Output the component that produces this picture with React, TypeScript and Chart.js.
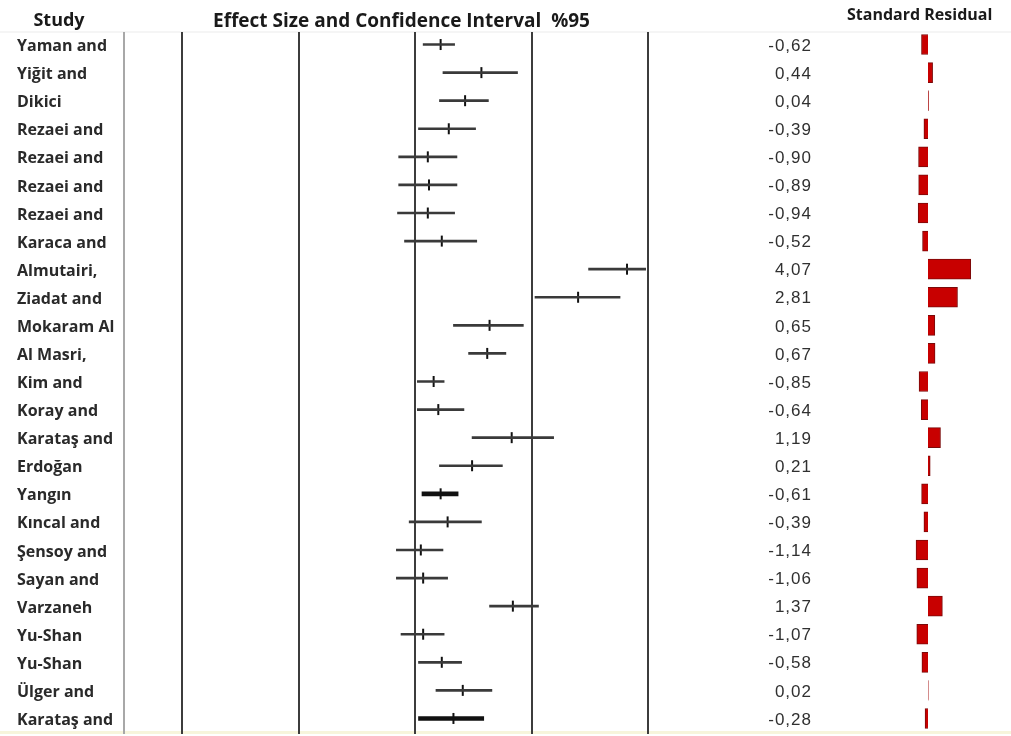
import { useEffect, useRef } from "react";
import Chart from "chart.js/auto";

// ---------- data ----------
const studies = [
  "Yaman and", "Yiğit and", "Dikici", "Rezaei and", "Rezaei and", "Rezaei and", "Rezaei and",
  "Karaca and", "Almutairi,", "Ziadat and", "Mokaram Al", "Al Masri,", "Kim and", "Koray and",
  "Karataş and", "Erdoğan", "Yangın", "Kıncal and", "Şensoy and", "Sayan and", "Varzaneh",
  "Yu-Shan", "Yu-Shan", "Ülger and", "Karataş and",
];
const effectSize = [0.22, 0.57, 0.43, 0.29, 0.11, 0.12, 0.11, 0.23, 1.82, 1.40, 0.64, 0.62, 0.16, 0.20, 0.83, 0.49, 0.22, 0.28, 0.05, 0.07, 0.84, 0.07, 0.23, 0.41, 0.33];
const ciLower = [0.07, 0.24, 0.21, 0.03, -0.14, -0.14, -0.15, -0.09, 1.49, 1.03, 0.33, 0.46, 0.02, 0.02, 0.49, 0.21, 0.06, -0.05, -0.16, -0.16, 0.64, -0.12, 0.03, 0.18, 0.03];
const ciUpper = [0.34, 0.88, 0.63, 0.52, 0.36, 0.36, 0.34, 0.53, 1.98, 1.76, 0.93, 0.78, 0.25, 0.42, 1.19, 0.75, 0.37, 0.57, 0.24, 0.28, 1.06, 0.25, 0.40, 0.66, 0.59];
const stdResidual = [-0.62, 0.44, 0.04, -0.39, -0.90, -0.89, -0.94, -0.52, 4.07, 2.81, 0.65, 0.67, -0.85, -0.64, 1.19, 0.21, -0.61, -0.39, -1.14, -1.06, 1.37, -1.07, -0.58, 0.02, -0.28];
const referenceLines = [-2, -1, 0, 1, 2];
const frameLine = -2.5;
const headerStudy = "Study";
const headerEffect = "Effect Size and Confidence Interval  %95";
const headerResidual = "Standard Residual";

// ---------- style ----------
const W = 1011;
const H = 736;
const thickRows = [16, 24];
const effPxPerUnit = 116.5;
const effZeroPx = 415;
const resPxPerUnit = 10.5;
const resZeroPx = 928;

const fmt = (v: number) => v.toFixed(2).replace(".", ",");

const decor = {
  id: "forestDecor",
  beforeDraw(chart: any) {
    const { ctx } = chart;
    ctx.save();
    ctx.fillStyle = "#ffffff";
    ctx.fillRect(0, 0, W, H);
    ctx.fillStyle = "#ececec";
    ctx.fillRect(0, 31.5, W, 1);
    ctx.fillStyle = "#f7f5dc";
    ctx.fillRect(0, 731, W, 3);
    ctx.restore();
  },
  beforeDatasetsDraw(chart: any) {
    const { ctx } = chart;
    const xs = chart.scales.x;
    ctx.save();
    const fx = Math.round(xs.getPixelForValue(frameLine));
    ctx.strokeStyle = "#a8a8a8";
    ctx.lineWidth = 2;
    ctx.beginPath();
    ctx.moveTo(fx, 32);
    ctx.lineTo(fx, 734);
    ctx.stroke();
    ctx.strokeStyle = "#3c3c3c";
    ctx.lineWidth = 2;
    referenceLines.forEach((v) => {
      const px = Math.round(xs.getPixelForValue(v));
      ctx.beginPath();
      ctx.moveTo(px, 32);
      ctx.lineTo(px, 734);
      ctx.stroke();
    });
    ctx.restore();
  },
  afterDraw(chart: any) {
    const { ctx } = chart;
    const ys = chart.scales.y;
    ctx.save();
    ctx.fillStyle = "#1a1a1a";
    ctx.textBaseline = "alphabetic";
    ctx.font = 'bold 18px "Open Sans"';
    ctx.textAlign = "center";
    ctx.fillText(headerStudy, 59, 26);
    ctx.textAlign = "left";
    ctx.font = 'bold 19px "Open Sans"';
    ctx.fillText(headerEffect, 213, 27);
    ctx.font = 'bold 16px "Open Sans"';
    ctx.fillText(headerResidual, 847, 20);
    // study labels
    ctx.font = 'bold 16px "Open Sans"';
    ctx.fillStyle = "#2a2a2a";
    ctx.textBaseline = "middle";
    ctx.textAlign = "left";
    studies.forEach((s, i) => {
      ctx.fillText(s, 17, ys.getPixelForValue(i) + 2);
    });
    // residual values
    ctx.font = '17px "Liberation Sans", Arial, sans-serif';
    ctx.fillStyle = "#303030";
    ctx.textAlign = "right";
    try { (ctx as any).letterSpacing = "1px"; } catch (e) { /* ignore */ }
    stdResidual.forEach((v, i) => {
      ctx.fillText(fmt(v), 812, ys.getPixelForValue(i) + 1.5);
    });
    ctx.restore();
  },
};

export default function App() {
  const ref = useRef<HTMLCanvasElement | null>(null);

  useEffect(() => {
    if (!ref.current) return;
    const ciNormal = ciLower.map((l, i) => (thickRows.includes(i) ? null : [l, ciUpper[i]]));
    const ciThick = ciLower.map((l, i) => (thickRows.includes(i) ? [l, ciUpper[i]] : null));
    const chart = new Chart(ref.current, {
      type: "bar",
      data: {
        labels: studies,
        datasets: [
          {
            type: "bar",
            label: "CI",
            data: ciNormal as any,
            indexAxis: "y",
            xAxisID: "x",
            yAxisID: "y",
            backgroundColor: "#3a3a3a",
            borderWidth: 0,
            barThickness: 2,
            grouped: false,
          } as any,
          {
            type: "bar",
            label: "CI thick",
            data: ciThick as any,
            indexAxis: "y",
            xAxisID: "x",
            yAxisID: "y",
            backgroundColor: "#111111",
            borderWidth: 0,
            barThickness: 4,
            grouped: false,
          } as any,
          {
            type: "line",
            label: "Effect size",
            data: effectSize,
            indexAxis: "y",
            xAxisID: "x",
            yAxisID: "y",
            showLine: false,
            pointStyle: "line",
            rotation: 90,
            pointRadius: 5.5,
            pointBorderWidth: 2,
            pointBorderColor: "#111111",
            pointBackgroundColor: "#111111",
          } as any,
          {
            type: "bar",
            label: "Standard Residual",
            data: stdResidual,
            indexAxis: "y",
            xAxisID: "x2",
            yAxisID: "y",
            backgroundColor: "#c80000",
            borderColor: "#7a0a0a",
            borderWidth: 1,
            barThickness: 20,
            grouped: false,
          } as any,
        ],
      },
      options: {
        animation: false,
        responsive: true,
        maintainAspectRatio: false,
        indexAxis: "y",
        layout: { autoPadding: false, padding: { top: 30.5, bottom: 3.5, left: 0, right: 0 } },
        plugins: {
          legend: { display: false },
          tooltip: { enabled: false },
        },
        scales: {
          y: {
            type: "category",
            display: false,
            offset: true,
          },
          x: {
            type: "linear",
            display: false,
            min: -effZeroPx / effPxPerUnit,
            max: (W - effZeroPx) / effPxPerUnit,
          },
          x2: {
            type: "linear",
            display: false,
            min: -resZeroPx / resPxPerUnit,
            max: (W - resZeroPx) / resPxPerUnit,
          },
        },
      } as any,
      plugins: [decor],
    });
    return () => chart.destroy();
  }, []);

  return (
    <div style={{ position: "absolute", left: 0, top: 0, width: W, height: H }}>
      <canvas ref={ref} />
    </div>
  );
}
